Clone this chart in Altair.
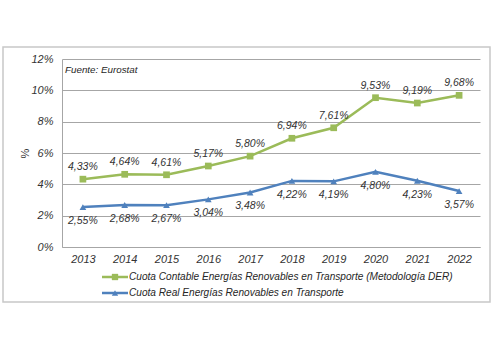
import altair as alt
import pandas as pd

years = [str(y) for y in range(2013, 2023)]
contable = [4.33, 4.64, 4.61, 5.17, 5.80, 6.94, 7.61, 9.53, 9.19, 9.68]
real = [2.55, 2.68, 2.67, 3.04, 3.48, 4.22, 4.19, 4.80, 4.23, 3.57]
series_names = [
    "Cuota Contable Energías Renovables en Transporte (Metodología DER)",
    "Cuota Real Energías Renovables en Transporte",
]
colors = ["#9BBB59", "#4F81BD"]
shapes = ["square", "triangle-up"]
source_note = "Fuente: Eurostat"

FONT = "Liberation Sans"
W, H = 418, 188

df_c = pd.DataFrame({"year": years, "v": contable})
df_r = pd.DataFrame({"year": years, "v": real})

xs = alt.X("year:O", scale=alt.Scale(type="point", padding=0.5),
           axis=alt.Axis(title=None, labelAngle=0, ticks=False, domainColor="#a6a6a6",
                         labelFont=FONT, labelFontStyle="italic", labelFontSize=11,
                         labelColor="#333333", labelPadding=6))
ys = alt.Y("v:Q", scale=alt.Scale(domain=[0, 12], nice=False),
           axis=alt.Axis(title="%", values=[0, 2, 4, 6, 8, 10, 12], ticks=False,
                         labelExpr="datum.value + '%'", domainColor="#a6a6a6",
                         gridColor="#a6a6a6", labelFont=FONT, labelFontStyle="italic",
                         labelFontSize=11, labelColor="#333333", labelPadding=9,
                         titleFont=FONT, titleFontSize=11, titleFontWeight="normal",
                         titleColor="#333333", titleX=-37, titleY=94, titleAlign="center",
                         titleBaseline="middle"))

lbl = "replace(format(datum.v, '.2f'), '.', ',') + '%'"


def series_layers(df, color, shape, dy):
    base = alt.Chart(df)
    line = base.mark_line(color=color, strokeWidth=2.5).encode(x=xs, y=ys)
    pts = base.mark_point(shape=shape, filled=True, color=color, size=45, opacity=1).encode(x=xs, y=ys)
    txt = base.transform_calculate(lab=lbl).mark_text(
        font=FONT, fontStyle="italic", fontSize=10.5, color="#333333", dy=dy
    ).encode(x=xs, y=ys, text="lab:N")
    return [line, pts, txt]


one = pd.DataFrame({"a": [0]})
frame = alt.Chart(one).mark_rect(filled=False, stroke="#c8c8c8", strokeWidth=1.5).encode(
    x=alt.value(-59), x2=alt.value(428), y=alt.value(-12), y2=alt.value(243))

note = alt.Chart(pd.DataFrame({"t": [source_note]})).mark_text(
    font=FONT, fontStyle="italic", fontSize=9.8, color="#262626", align="left", baseline="middle"
).encode(x=alt.value(3), y=alt.value(11), text="t:N")

legend_layers = []
for i, (name, col, shp) in enumerate(zip(series_names, colors, shapes)):
    yy = 218 + 16 * i
    d = pd.DataFrame({"name": [name]})
    legend_layers.append(alt.Chart(d).mark_rule(color=col, strokeWidth=2.5).encode(
        x=alt.value(40), x2=alt.value(66), y=alt.value(yy)))
    legend_layers.append(alt.Chart(d).mark_point(shape=shp, filled=True, color=col, size=40, opacity=1).encode(
        x=alt.value(53), y=alt.value(yy)))
    legend_layers.append(alt.Chart(d).mark_text(
        font=FONT, fontStyle="italic", fontSize=10.1, color="#262626", align="left", baseline="middle"
    ).encode(x=alt.value(67), y=alt.value(yy), text="name:N"))

layers = [frame] + series_layers(df_c, colors[0], shapes[0], -12) + series_layers(df_r, colors[1], shapes[1], 14) + [note] + legend_layers

chart = alt.layer(*layers).properties(
    width=W, height=H,
    autosize=alt.AutoSizeParams(type="none"),
    padding={"left": 62, "top": 59, "right": 20, "bottom": 103},
    background="white",
).configure_view(stroke=None)

chart.save("out.html", embed_options={"renderer": "svg", "actions": False})
